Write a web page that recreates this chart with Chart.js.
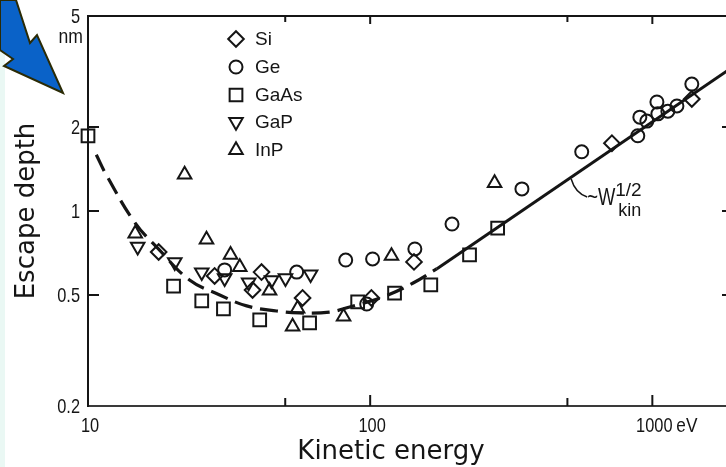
<!DOCTYPE html>
<html><head><meta charset="utf-8">
<script src="https://cdn.jsdelivr.net/npm/chart.js@4.4.1/dist/chart.umd.min.js"></script>
<style>
html,body{margin:0;padding:0;background:#fff;overflow:hidden;width:726px;height:467px}
#wrap{position:relative;width:760px;height:467px}
</style>
</head><body><div id="wrap"><canvas id="c" width="760" height="467"></canvas></div>
<script>
// ---------- data ----------
const siE   = [17.8, 28.1, 41.2, 38.3, 57.6, 101, 143, 719, 1380];
const siD   = [0.713, 0.585, 0.604, 0.521, 0.488, 0.488, 0.657, 1.75, 2.52];

const geE   = [30.5, 54.9, 81.9, 102, 144, 97.2, 195, 345, 562, 888, 903, 956, 1038, 1046, 1135, 1222, 1380];
const geD   = [0.615, 0.604, 0.667, 0.673, 0.731, 0.464, 0.898, 1.20, 1.63, 1.86, 2.17, 2.10, 2.46, 2.23, 2.28, 2.38, 2.85];

const gaAsE = [10, 20.1, 25.3, 30.2, 40.6, 61, 90.3, 122, 164, 225, 283];
const gaAsD = [1.86, 0.538, 0.476, 0.446, 0.407, 0.397, 0.472, 0.508, 0.543, 0.696, 0.869];

const gaPE  = [15.0, 20.3, 25.3, 30.5, 37.1, 44.7, 50.1, 61.5];
const gaPD  = [0.745, 0.655, 0.603, 0.574, 0.555, 0.565, 0.574, 0.593];

const inPE  = [14.7, 22.0, 26.3, 32.0, 34.5, 44.0, 55.3, 53.1, 80.5, 119, 276];
const inPD  = [0.83, 1.35, 0.79, 0.697, 0.63, 0.518, 0.447, 0.385, 0.418, 0.69, 1.26];

// dashed guide curve and W^1/2 law line
const curveE = [10.7, 11.6, 14.6, 17.9, 22.9, 29.3, 36.5, 46.6, 56.2, 71.8, 84.6, 111, 142, 172];
const curveD = [1.59, 1.35, 0.914, 0.725, 0.566, 0.50, 0.457, 0.438, 0.431, 0.434, 0.453, 0.492, 0.552, 0.62];
const lawE = [172, 1900];
const lawD = [0.62, 3.25];

// axes
const xMin = 10, xMax = 1900, yMin = 0.2, yMax = 5;
const xMajor = [100, 1000];
const xMinor = [50, 500];
const xLabelVals = [10, 100, 1000];
const xLabels = ['10', '100', '1000'];
const yTickVals = [2, 1, 0.5];
const yLabelVals = [5, 2, 1, 0.5, 0.2];
const yLabels = ['5', '2', '1', '0.5', '0.2'];

const legendNames = ['Si', 'Ge', 'GaAs', 'GaP', 'InP'];

const INK = '#151515';
const pts = (E, D) => E.map((e, i) => ({x: e, y: D[i]}));

function marker(label, E, D, style, r, rot) {
  return {
    type: 'scatter', label, data: pts(E, D), order: 0, clip: false,
    pointStyle: style, pointRadius: r, pointHoverRadius: r, pointRotation: rot || 0,
    pointBorderWidth: 2, pointBorderColor: INK, pointBackgroundColor: 'rgba(0,0,0,0)'
  };
}

const datasets = [
  {type: 'line', label: 'curve', data: pts(curveE, curveD), order: 10, borderColor: INK, borderWidth: 3.2,
   borderDash: [18, 8], pointRadius: 0, tension: 0.4, fill: false},
  {type: 'line', label: 'law', data: pts(lawE, lawD), order: 10, borderColor: INK, borderWidth: 3,
   pointRadius: 0, fill: false},
  marker('Si', siE, siD, 'rectRot', 7.8),
  marker('Ge', geE, geD, 'circle', 6.5),
  marker('GaAs', gaAsE, gaAsD, 'rect', 9.0),
  marker('GaP', gaPE, gaPD, 'triangle', 7.8, 180),
  marker('InP', inPE, inPD, 'triangle', 7.8)
];

function ctext(ctx, s, x, y, sx, align) {
  ctx.save(); ctx.translate(x, y); ctx.scale(sx, 1);
  ctx.textAlign = align || 'left'; ctx.fillText(s, 0, 0); ctx.restore();
}
function seg(ctx, x1, y1, x2, y2) { ctx.beginPath(); ctx.moveTo(x1, y1); ctx.lineTo(x2, y2); ctx.stroke(); }

const paper = {
  id: 'paper',
  beforeDraw(chart) {
    const ctx = chart.ctx;
    ctx.save();
    ctx.fillStyle = '#ffffff'; ctx.fillRect(0, 0, chart.width, chart.height);
    ctx.fillStyle = '#eaf8f4'; ctx.fillRect(0, 0, 5, chart.height);
    ctx.restore();
  },
  afterDraw(chart) {
    const {ctx, chartArea: a, scales: {x, y}} = chart;
    ctx.save();
    ctx.strokeStyle = INK; ctx.fillStyle = INK; ctx.lineWidth = 2;
    // inward ticks
    xMajor.forEach(v => { const p = x.getPixelForValue(v); seg(ctx, p, a.bottom, p, a.bottom - 11); seg(ctx, p, a.top, p, a.top + 8); });
    xMinor.forEach(v => { const p = x.getPixelForValue(v); seg(ctx, p, a.bottom, p, a.bottom - 8); seg(ctx, p, a.top, p, a.top + 6); });
    yTickVals.forEach(v => { const p = y.getPixelForValue(v); seg(ctx, a.left, p, a.left + 11, p); seg(ctx, a.right, p, a.right - 9, p); });
    // tick labels
    ctx.font = '21px "Liberation Sans", Arial, sans-serif';
    ctx.textBaseline = 'alphabetic';
    xLabelVals.forEach((v, i) => ctext(ctx, xLabels[i], x.getPixelForValue(v) + 2, 432, 0.78, 'center'));
    const p1000 = x.getPixelForValue(1000);
    ctext(ctx, 'eV', p1000 + 24, 432, 0.82, 'left');
    ctx.textBaseline = 'middle';
    yLabelVals.forEach((v, i) => ctext(ctx, yLabels[i], 80, y.getPixelForValue(v) + 1, 0.78, 'right'));
    ctx.textBaseline = 'alphabetic';
    ctx.font = '20px "Liberation Sans", Arial, sans-serif';
    ctext(ctx, 'nm', 83, 43, 0.88, 'right');
    // axis titles
    ctx.font = '26px "DejaVu Sans", sans-serif';
    ctext(ctx, 'Kinetic energy', 391, 459, 1, 'center');
    ctx.save(); ctx.translate(34, 211); ctx.rotate(-Math.PI / 2);
    ctx.textAlign = 'center'; ctx.fillText('Escape depth', 0, 0); ctx.restore();
    // legend
    const rows = [39, 67, 95, 122, 150];
    ctx.font = '19px "Liberation Sans", Arial, sans-serif';
    legendNames.forEach((name, i) => {
      const ds = chart.data.datasets.find(d => d.label === name);
      ctx.save();
      ctx.strokeStyle = INK; ctx.fillStyle = 'rgba(0,0,0,0)';
      Chart.helpers.drawPoint(ctx, {pointStyle: ds.pointStyle, radius: ds.pointRadius, rotation: ds.pointRotation, borderWidth: 2}, 236, rows[i]);
      ctx.restore();
      ctx.textBaseline = 'middle';
      ctext(ctx, name, 255, rows[i] + 1, 1, 'left');
    });
    // W^1/2 annotation anchored on the law line
    const ax = x.getPixelForValue(520), ay = y.getPixelForValue(1.27);
    ctx.lineWidth = 1.5;
    ctx.beginPath(); ctx.moveTo(ax - 1, ay - 3); ctx.quadraticCurveTo(ax + 3, ay + 11, ax + 15, ay + 15); ctx.stroke();
    ctx.textBaseline = 'alphabetic';
    ctx.font = '23px "Liberation Sans", Arial, sans-serif';
    ctext(ctx, '~W', ax + 15, ay + 23, 0.8, 'left');
    ctx.font = '19px "Liberation Sans", Arial, sans-serif';
    ctext(ctx, '1/2', ax + 43, ay + 14, 1, 'left');
    ctx.font = '18px "Liberation Sans", Arial, sans-serif';
    ctext(ctx, 'kin', ax + 46, ay + 34, 1, 'left');
    // blue arrow overlay
    const arrow = [[0, 0], [16, 0], [30, 43], [37, 35], [63, 93], [4, 66], [13, 59], [0, 50]];
    ctx.beginPath();
    arrow.forEach((p, i) => i ? ctx.lineTo(p[0], p[1]) : ctx.moveTo(p[0], p[1]));
    ctx.closePath();
    ctx.fillStyle = '#0a62c8'; ctx.fill();
    ctx.strokeStyle = '#2b2b05'; ctx.lineWidth = 2; ctx.lineJoin = 'miter'; ctx.stroke();
    ctx.restore();
  }
};

const axisCommon = {
  type: 'logarithmic', grid: {display: false, drawTicks: false}, ticks: {display: false},
  border: {display: true, color: INK, width: 2}
};

new Chart(document.getElementById('c'), {
  data: {datasets},
  options: {
    responsive: false, animation: false, devicePixelRatio: 1,
    layout: {padding: {left: 88, top: 16, right: 29, bottom: 61}},
    plugins: {legend: {display: false}, tooltip: {enabled: false}},
    events: [],
    scales: {
      x:  Object.assign({}, axisCommon, {position: 'bottom', min: xMin, max: xMax, border: {display: true, color: '#3a3a3a', width: 2}, afterFit(s) { s.height = 0; }}),
      x2: Object.assign({}, axisCommon, {position: 'top', min: xMin, max: xMax, afterFit(s) { s.height = 0; }}),
      y:  Object.assign({}, axisCommon, {position: 'left', min: yMin, max: yMax, afterFit(s) { s.width = 0; }}),
      y2: Object.assign({}, axisCommon, {position: 'right', min: yMin, max: yMax, afterFit(s) { s.width = 0; }})
    }
  },
  plugins: [paper]
});
</script></body></html>
